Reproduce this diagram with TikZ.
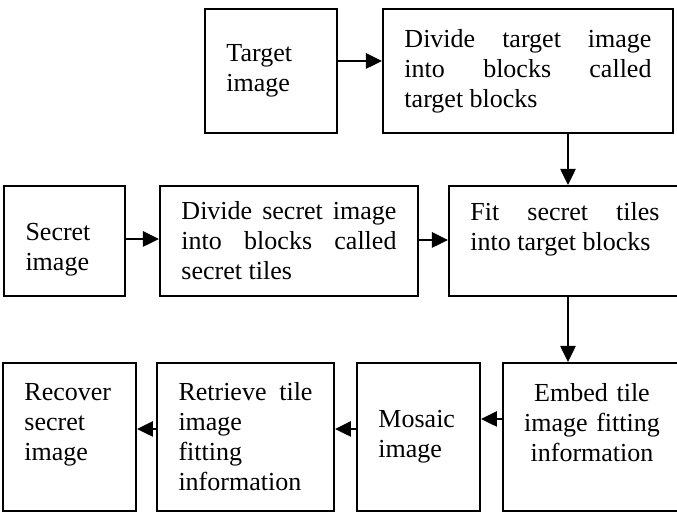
\documentclass[tikz,border=0pt]{standalone}
\usepackage{fontspec}
\setmainfont{Liberation Serif}
\usetikzlibrary{arrows.meta,positioning}
\tikzset{
  block/.style={
    rectangle, draw, line width=1pt, fill=white,
    minimum height=55pt, inner sep=0pt,
    font=\fontsize{13}{15}\selectfont, align=justify
  },
  arrow/.style={-{Triangle[length=8pt,width=7.5pt]}, line width=1.3pt},
}

\begin{document}
\begin{tikzpicture}[x=0.5pt, y=-0.5pt]
  \useasboundingbox (0,0) rectangle (677,512);
  \clip (0,0) rectangle (677,512);

  % Top row
  \node[block, minimum width=66pt, minimum height=62pt, text width=44.5pt,
    align=left] (target) at (271,71) {Target\\ image};
  \node[block, right=22pt of target, minimum width=145pt, minimum height=62pt,
    text width=123.5pt] (divt)
    {Divide target image\linebreak into blocks called\linebreak target blocks};

  % Middle row
  \node[block, minimum width=116pt, text width=94.5pt] (fit) at (565,241)
    {Fit secret tiles\linebreak into target blocks\\ \mbox{}};
  \node[block, left=14.5pt of fit, minimum width=129pt, text width=107.5pt] (divs)
    {Divide secret image\linebreak into blocks called\linebreak secret tiles};
  \node[block, left=16.5pt of divs, minimum width=60.5pt, text width=39pt,
    text height=17pt, align=left] (secret) {Secret\\ image};

  % Bottom row
  \node[block, minimum width=89pt, minimum height=74pt, text width=70pt,
    align=center] (embed) at (592,437)
    {Embed tile\\ image fitting\\ information\\ \mbox{}};
  \node[block, left=10.5pt of embed, minimum width=61.5pt, minimum height=74pt,
    text width=40pt, align=left] (mosaic) {Mosaic\\ image};
  \node[block, left=10.5pt of mosaic, minimum width=88.5pt, minimum height=74pt,
    text width=67pt] (retrieve)
    {Retrieve tile\linebreak image\\ fitting\\ information};
  \node[block, left=9.5pt of retrieve, minimum width=66.5pt, minimum height=74pt,
    text width=45pt, align=left] (recover) {Recover\\ secret\\ image\\ \mbox{}};

  % Arrows
  \draw[arrow] ([yshift=5pt]target.east) -- ([yshift=5pt]divt.west);
  \draw[arrow] ([xshift=1.5pt]fit.north |- divt.south) -- ([xshift=1.5pt]fit.north);
  \draw[arrow] ([yshift=1pt]secret.east) -- ([yshift=1pt]divs.west);
  \draw[arrow] ([yshift=0.5pt]divs.east) -- ([yshift=0.5pt]fit.west);
  \draw[arrow] ([xshift=1.5pt]fit.south) -- ([xshift=1.5pt]fit.south |- embed.north);
  \draw[arrow] ([yshift=9pt]embed.west) -- ([yshift=9pt]mosaic.east);
  \draw[arrow] ([yshift=4pt]mosaic.west) -- ([yshift=4pt]retrieve.east);
  \draw[arrow] ([yshift=4pt]retrieve.west) -- ([yshift=4pt]recover.east);
\end{tikzpicture}
\end{document}
